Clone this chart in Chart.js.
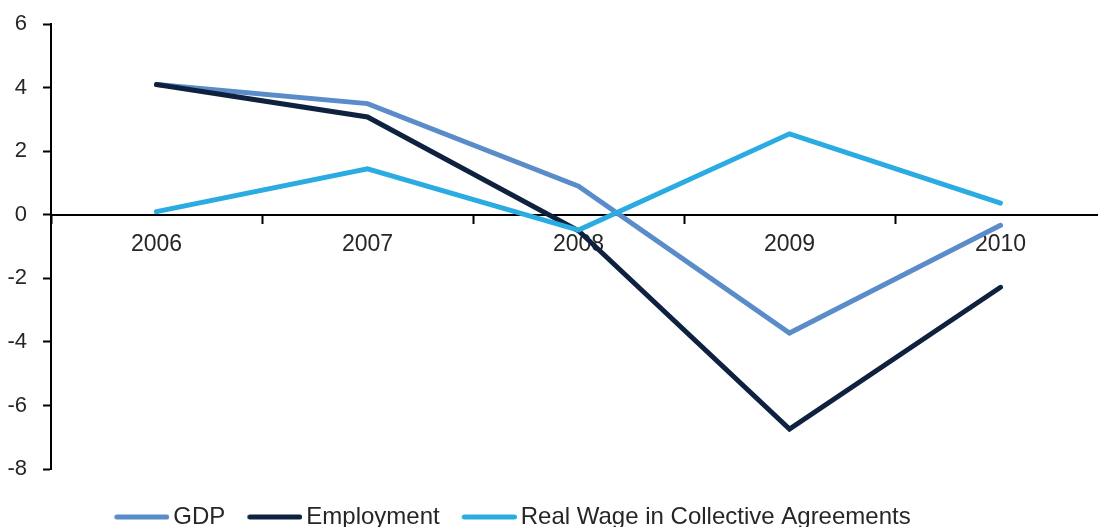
<!DOCTYPE html>
<html>
<head>
<meta charset="utf-8">
<script src="https://cdn.jsdelivr.net/npm/chart.js@4.4.1/dist/chart.umd.min.js"></script>
<style>
  html, body { margin: 0; padding: 0; background: #fff; overflow: hidden; }
  canvas { display: block; margin-top: -5px; }
</style>
</head>
<body>
<canvas id="chart" width="1106" height="533"></canvas>
<script>
// Annual change, per cent
const years = ['2006', '2007', '2008', '2009', '2010'];
const gdp = [4.1, 3.5, 0.9, -3.72, -0.33];
const employment = [4.1, 3.08, -0.5, -6.74, -2.28];
const realWage = [0.1, 1.45, -0.48, 2.55, 0.37];
const seriesNames = ['GDP', 'Employment', 'Real Wage in Collective Agreements'];
const seriesColors = ['#5B8CCA', '#0E2240', '#2AABE2'];
const yMin = -8, yMax = 6, yStep = 2;

const textColor = '#262626';
const fontFamily = "'Liberation Sans', Arial, sans-serif";

// Legend key: a thick round-capped line segment
function legendKey(color) {
  const c = document.createElement('canvas');
  c.width = 60; c.height = 6;
  const g = c.getContext('2d');
  g.strokeStyle = color; g.lineWidth = 5; g.lineCap = 'round';
  g.beginPath(); g.moveTo(7.5, 3); g.lineTo(57.5, 3); g.stroke();
  return c;
}

// Nudges the bottom legend so it sits where the layout wants it
const legendOffset = {
  id: 'legendOffset',
  afterLayout(chart, args, opts) {
    const lg = chart.legend;
    if (!lg) return;
    lg.left += opts.dx; lg.right += opts.dx;
    lg.top += opts.dy; lg.bottom += opts.dy;
  }
};

function lineSet(label, data, color, order) {
  return {
    label, data, order,
    borderColor: color, backgroundColor: color,
    borderWidth: 5, pointRadius: 0, pointHoverRadius: 0,
    borderCapStyle: 'round', borderJoinStyle: 'miter',
    tension: 0, fill: false, clip: false
  };
}

new Chart(document.getElementById('chart'), {
  type: 'line',
  data: {
    labels: years,
    datasets: [
      lineSet(seriesNames[0], gdp, seriesColors[0], 3),
      lineSet(seriesNames[1], employment, seriesColors[1], 2),
      lineSet(seriesNames[2], realWage, seriesColors[2], 1)
    ]
  },
  options: {
    responsive: false,
    animation: false,
    layout: { padding: { top: 19, right: 0, left: 0, bottom: 0 } },
    scales: {
      x: {
        type: 'category',
        offset: true,
        position: { y: 0 },
        grid: { display: true, drawOnChartArea: false, drawTicks: true, tickLength: 8, tickWidth: 2, tickColor: '#000', offset: true },
        border: { display: true, color: '#000', width: 2 },
        ticks: { color: textColor, font: { family: fontFamily, size: 23 }, padding: 8, maxRotation: 0, autoSkip: false }
      },
      y: {
        min: yMin, max: yMax,
        ticks: { stepSize: yStep, color: textColor, font: { family: fontFamily, size: 22 }, padding: 16 },
        grid: { drawOnChartArea: false, tickLength: 8, tickWidth: 2, tickColor: '#000' },
        border: { display: true, color: '#000', width: 2 },
        afterFit(scale) { scale.width = 51; }
      }
    },
    plugins: {
      legend: {
        position: 'bottom',
        labels: {
          usePointStyle: true, pointStyleWidth: 44,
          padding: 25, color: textColor,
          font: { family: fontFamily, size: 24 },
          sort: (a, b) => a.datasetIndex - b.datasetIndex,
          generateLabels(chart) {
            const items = Chart.defaults.plugins.legend.labels.generateLabels(chart);
            items.forEach(it => { it.pointStyle = legendKey(seriesColors[it.datasetIndex]); });
            return items;
          }
        }
      },
      legendOffset: { dx: -39, dy: 11 },
      tooltip: { enabled: false }
    }
  },
  plugins: [legendOffset]
});
</script>
</body>
</html>
